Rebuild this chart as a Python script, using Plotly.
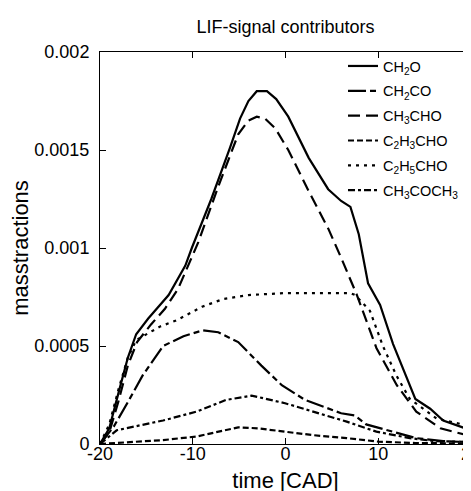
import plotly.graph_objects as go

# ---- data ----
t_ch2o = [-20, -19, -17.9, -17, -16.1, -14.8, -12.6, -10.8, -10.1, -8, -6, -4.9, -4, -3.1, -2.0, -1, 0.3,
          2.5, 4.6, 6, 7, 7.9, 8.9, 9.5, 10.2, 11.6, 14, 15.6, 17, 20]
y_ch2o = [0, 0.00008, 0.00028, 0.00044, 0.00056, 0.00064, 0.00076, 0.00091, 0.001, 0.00125, 0.00151,
          0.00166, 0.00175, 0.0018, 0.0018, 0.00176, 0.00167, 0.00146, 0.0013, 0.00124, 0.00121, 0.00107,
          0.00082, 0.00077, 0.00071, 0.00051, 0.00023, 0.00018, 0.00012, 0.00007]

t_ch2co = [-20, -18.5, -16.8, -15.4, -13.2, -11, -8.9, -7.25, -5.1, -2.6, -0.4, 2.1, 6, 7.5, 8.7, 11.6,
           14.1, 17, 20]
y_ch2co = [0, 0.00009, 0.00023, 0.00035, 0.0005, 0.00055, 0.00058, 0.00057, 0.00052, 0.0004, 0.0003,
           0.000225, 0.000157, 0.000145, 0.0001, 0.000063, 0.00003, 0.000015, 0.00001]

t_ch3cho = [-20, -19, -18, -17, -16, -14.5, -13, -11.6, -9.4, -7.2, -5.1, -4, -3.1, -2.2, -1.1, 0.3, 2.5,
            4.6, 6, 7.3, 7.7, 9.8, 12, 14.1, 16.7, 20]
y_ch3cho = [0, 0.00006, 0.00022, 0.0004, 0.00052, 0.00061, 0.00069, 0.00079, 0.00103, 0.00132, 0.00158,
            0.00165, 0.00167, 0.00166, 0.00161, 0.0015, 0.00129, 0.0011, 0.00095, 0.0008, 0.00076, 0.00049,
            0.0003, 0.000165, 0.00008, 0.00004]

t_c2h3cho = [-20, -17, -13.2, -9.6, -6.4, -5.1, -3, -0.05, 3, 6.6, 10, 14, 20]
y_c2h3cho = [0, 0.00001, 0.00002, 0.000038, 0.00007, 0.000085, 0.00008, 0.000063, 0.000045, 0.00003,
             0.000012, 0.000005, 0.000003]

t_c2h5cho = [-20, -19, -18, -17, -16.1, -15, -13.5, -11.8, -9, -6.7, -4, 0, 4, 7, 7.5, 9.1, 10.5, 11.95,
             13.4, 16.3, 20]
y_c2h5cho = [0, 0.0001, 0.00028, 0.00044, 0.00053, 0.00056, 0.0006, 0.00063, 0.0007, 0.00074, 0.00076,
             0.00077, 0.00077, 0.00077, 0.00076, 0.00068, 0.0005, 0.00035, 0.00023, 0.00013, 0.00009]

t_ch3coch3 = [-20, -18.2, -13.2, -9.6, -6.4, -3.65, -0.05, 3.5, 6.6, 9.8, 13.4, 16, 20]
y_ch3coch3 = [0, 0.00007, 0.00012, 0.000165, 0.000225, 0.000247, 0.000208, 0.000157, 0.000114, 0.000063,
              0.00003, 0.000015, 0.00001]

names = ["CH<sub>2</sub>O", "CH<sub>2</sub>CO", "CH<sub>3</sub>CHO", "C<sub>2</sub>H<sub>3</sub>CHO",
         "C<sub>2</sub>H<sub>5</sub>CHO", "CH<sub>3</sub>COCH<sub>3</sub>"]

x_tickvals = [-20, -10, 0, 10, 20]
x_ticktext = ["-20", "-10", "0", "10", "20"]
y_tickvals = [0, 0.0005, 0.001, 0.0015, 0.002]
y_ticktext = ["0", "0.0005", "0.001", "0.0015", "0.002"]

series = [
    (t_ch2o, y_ch2o, "solid"),
    (t_ch2co, y_ch2co, "18px,4px,6px,4px"),
    (t_ch3cho, y_ch3cho, "12px,6px"),
    (t_c2h3cho, y_c2h3cho, "6px,3px"),
    (t_c2h5cho, y_c2h5cho, "3px,5px"),
    (t_ch3coch3, y_ch3coch3, "7px,3px,3px,3px"),
]

fig = go.Figure()
for i, ((tx, ty, dash), nm) in enumerate(zip(series, names)):
    fig.add_trace(go.Scatter(x=tx, y=ty, mode="lines", name=nm, legendgroup=f"g{i}",
                             line=dict(color="black", width=2.2, dash=dash)))

font_family = "Liberation Sans, Arial, sans-serif"
fig.update_layout(
    width=471, height=491,
    margin=dict(l=92, r=8, t=44, b=55, autoexpand=False),
    paper_bgcolor="white", plot_bgcolor="white",
    font=dict(family=font_family, size=18, color="black"),
    title=dict(text="LIF-signal contributors", x=0.5, xref="paper", y=1 - 19 / 491, yref="container",
               xanchor="center", yanchor="middle", font=dict(size=18), automargin=False),
    showlegend=True,
    legend=dict(x=0.655, y=1.005, xanchor="left", yanchor="top", bgcolor="rgba(0,0,0,0)",
                borderwidth=0, font=dict(size=14.5), tracegroupgap=3, itemwidth=30),
)
fig.update_xaxes(range=[-20, 20], tickvals=x_tickvals, ticktext=x_ticktext, automargin=False,
                 showline=True, linecolor="black", linewidth=1, mirror="ticks",
                 ticks="inside", ticklen=6, tickcolor="black", showgrid=False, zeroline=False,
                 ticklabeloverflow="allow", ticklabelstandoff=-7,
                 title=dict(text="time [CAD]", standoff=10), tickfont=dict(size=18))
fig.update_yaxes(range=[0, 0.002], tickvals=y_tickvals, ticktext=y_ticktext, automargin=False,
                 showline=True, linecolor="black", linewidth=1, mirror="ticks",
                 ticks="inside", ticklen=6, tickcolor="black", showgrid=False, zeroline=False,
                 ticklabeloverflow="allow", ticklabelstandoff=6,
                 title=dict(text="masstractions", standoff=0), tickfont=dict(size=18))

fig.write_html("out.html")
